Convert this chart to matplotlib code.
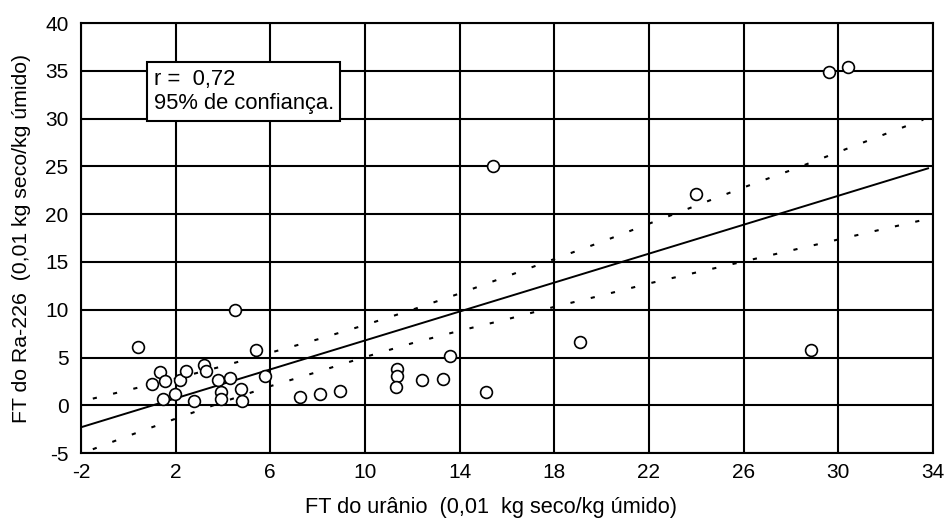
"""
FT do Ra-226 vs FT do uranio, com reta de regressao e faixa de 95%.
"""
import matplotlib
matplotlib.use('Agg')
import matplotlib.pyplot as plt

plt.rcParams['font.family'] = ['Liberation Sans', 'DejaVu Sans']
plt.rcParams['lines.scale_dashes'] = False
plt.rcParams['axes.unicode_minus'] = False

# pontos medidos (FT uranio, FT Ra-226)
ft_u = [0.42, 4.51, 1.34, 1.02, 1.57, 1.45, 1.97, 2.2, 2.45, 2.79,
        3.2, 3.29, 3.78, 3.91, 3.91, 4.29, 4.78, 4.79, 5.4, 5.78,
        7.26, 8.1, 8.95, 11.35, 11.35, 11.3, 12.4, 13.3, 13.6, 15.1,
        19.1, 15.4, 24.0, 29.6, 30.4, 28.85]
ft_ra = [6.1, 10.0, 3.5, 2.2, 2.5, 0.7, 1.2, 2.6, 3.6, 0.5,
         4.2, 3.6, 2.6, 1.4, 0.7, 2.9, 1.7, 0.5, 5.8, 3.1,
         0.9, 1.15, 1.5, 3.8, 3.1, 1.9, 2.7, 2.8, 5.2, 1.4,
         6.6, 25.0, 22.1, 34.9, 35.4, 5.8]

# reta de regressao (extremos)
reta_x = [-2.0, 33.8]
reta_y = [-2.3, 24.8]

# faixa de confianca 95%
faixa_x = [-1.5, 0, 2, 4, 6, 8, 10, 12, 14, 16, 18, 20, 22, 24, 26, 28, 30, 32, 33.6]
faixa_sup = [0.7, 1.6, 2.8, 4.1, 5.5, 6.9, 8.4, 10.0, 11.7, 13.5, 15.3, 17.1,
             19.0, 20.9, 22.8, 24.6, 26.5, 28.4, 29.9]
faixa_inf = [-4.6, -3.2, -1.4, 0.35, 2.0, 3.5, 5.05, 6.5, 7.8, 9.0, 10.3, 11.5,
             12.75, 13.9, 15.05, 16.2, 17.35, 18.5, 19.4]

x_ticks = [-2, 2, 6, 10, 14, 18, 22, 26, 30, 34]
y_ticks = [-5, 0, 5, 10, 15, 20, 25, 30, 35, 40]

fig = plt.figure(figsize=(9.47, 5.25), dpi=100)
ax = fig.add_axes([0.0855, 0.137, 0.8995, 0.819])

ax.set_xlim(-2, 34)
ax.set_ylim(-5, 40)
ax.set_xticks(x_ticks)
ax.set_yticks(y_ticks)
ax.grid(True, color='black', linewidth=1.5)
ax.set_axisbelow(True)
ax.tick_params(axis='x', length=0, labelsize=15, pad=7)
ax.tick_params(axis='y', length=0, labelsize=15, pad=9)
for s in ax.spines.values():
    s.set_linewidth(1.5)

ax.plot(reta_x, reta_y, color='black', linewidth=1.4)
ax.plot(faixa_x, faixa_sup, color='black', linewidth=1.5, dashes=(3, 12))
ax.plot(faixa_x, faixa_inf, color='black', linewidth=1.5, dashes=(3, 12))

ax.plot(ft_u, ft_ra, 'o', markerfacecolor='white', markeredgecolor='black',
        markersize=8.5, markeredgewidth=1.2, zorder=5)

ax.text(1.07, 35.2, 'r =  0,72\n95% de confiança.', fontsize=15.8,
        va='top', ha='left', linespacing=1.2,
        bbox=dict(boxstyle='square,pad=0.3', facecolor='white',
                  edgecolor='black', linewidth=1.5), zorder=6)

ax.set_xlabel('FT do urânio  (0,01  kg seco/kg úmido)', fontsize=15.7)
ax.xaxis.set_label_coords(0.481, -0.103)
ax.set_ylabel('FT do Ra-226  (0,01 kg seco/kg úmido)', fontsize=15.3, labelpad=10)

fig.savefig('out.png', dpi=100)
